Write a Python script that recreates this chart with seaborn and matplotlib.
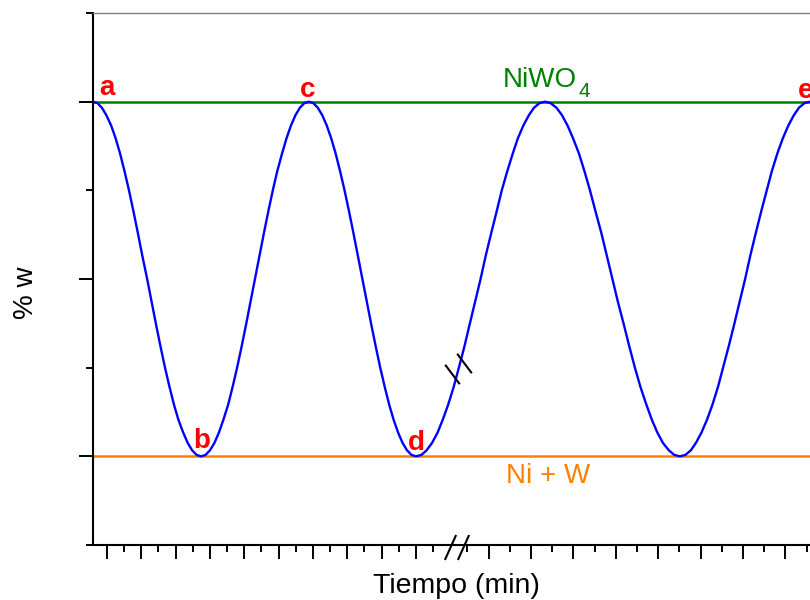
import numpy as np
import pandas as pd
import matplotlib
matplotlib.use("Agg")
import matplotlib.pyplot as plt
import seaborn as sns

# Weight signal over time (cycles between NiWO4 and Ni + W)
tiempo = [-0.41,
          -0.28, -0.15, -0.02, 0.12, 0.25, 0.38, 0.51, 0.64, 0.77, 0.90, 1.03, 1.17,
          1.30, 1.43, 1.56, 1.69, 1.82, 1.95, 2.08, 2.22, 2.35, 2.48, 2.61, 2.74,
          2.87, 3.00, 3.13, 3.26, 3.39, 3.53, 3.66, 3.79, 3.92, 4.05, 4.18, 4.31,
          4.44, 4.57, 4.70, 4.83, 4.96, 5.10, 5.23, 5.36, 5.49, 5.62, 5.75, 5.88,
          6.01, 6.14, 6.27, 6.40, 6.53, 6.66, 6.79, 6.92, 7.05, 7.18, 7.31, 7.44,
          7.57, 7.70, 7.83, 7.96, 8.09, 8.22, 8.35, 8.48, 8.61, 8.74, 8.87, 9.00,
          9.16, 9.31, 9.47, 9.63, 9.78, 9.94, 10.10, 10.25, 10.41, 10.55, 10.68, 10.81,
          10.93, 11.06, 11.19, 11.31, 11.44, 11.57, 11.69, 11.82, 11.95, 12.07, 12.20, 12.33,
          12.46, 12.60, 12.73, 12.86, 12.99, 13.13, 13.26, 13.39, 13.52, 13.66, 13.79, 13.92,
          14.05, 14.19, 14.32, 14.45, 14.58, 14.72, 14.85, 14.98, 15.11, 15.25, 15.38, 15.51,
          15.64, 15.77, 15.89, 16.02, 16.15, 16.28, 16.41, 16.53, 16.66, 16.79, 16.92, 17.05,
          17.17, 17.30, 17.43, 17.56, 17.68, 17.81, 17.94, 18.07, 18.20, 18.32, 18.45, 18.58,
          18.71, 18.84, 18.96, 19.09, 19.22, 19.35]
peso = [100,
        99.6, 98.3, 96.2, 93.3, 89.7, 85.4, 80.4, 75.0, 69.1, 62.9, 56.5, 50.0,
        43.5, 37.1, 30.9, 25.0, 19.6, 14.6, 10.3, 6.7, 3.8, 1.7, 0.4, 0.0,
        0.4, 1.7, 3.8, 6.7, 10.3, 14.6, 19.6, 25.0, 30.9, 37.1, 43.5, 50.0,
        56.5, 62.9, 69.1, 75.0, 80.4, 85.4, 89.7, 93.3, 96.2, 98.3, 99.6, 100,
        99.6, 98.3, 96.2, 93.3, 89.7, 85.4, 80.4, 75.0, 69.1, 62.9, 56.5, 50.0,
        43.5, 37.1, 30.9, 25.0, 19.6, 14.6, 10.3, 6.7, 3.8, 1.7, 0.4, 0.0,
        0.4, 1.7, 3.8, 6.7, 10.3, 14.6, 19.6, 25.0, 30.9, 37.1, 43.5, 50.0,
        56.5, 62.9, 69.1, 75.0, 80.4, 85.4, 89.7, 93.3, 96.2, 98.3, 99.6, 100,
        99.6, 98.3, 96.2, 93.3, 89.7, 85.4, 80.4, 75.0, 69.1, 62.9, 56.5, 50.0,
        43.5, 37.1, 30.9, 25.0, 19.6, 14.6, 10.3, 6.7, 3.8, 1.7, 0.4, 0.0,
        0.4, 1.7, 3.8, 6.7, 10.3, 14.6, 19.6, 25.0, 30.9, 37.1, 43.5, 50.0,
        56.5, 62.9, 69.1, 75.0, 80.4, 85.4, 89.7, 93.3, 96.2, 98.3, 99.6, 100,
        99.6, 98.3, 96.2, 93.3, 89.7, 85.4]

# Reference levels
nivel_niwo4 = 100
nivel_niw = 0

# Point labels along the cycle
etiquetas = ["a", "b", "c", "d", "e"]
etiqueta_t = [0.0, 2.75, 5.85, 9.02, 18.48]
etiqueta_w = [101.9, 2.3, 101.3, 1.8, 101.0]

# Tick positions (no tick labels are shown)
x_mayores = [0, 1, 2, 3, 4, 5, 6, 7, 8, 9, 11, 12, 13, 14, 15, 16, 17, 18, 19]
x_menores = [0.5, 1.5, 2.5, 3.5, 4.5, 5.5, 6.5, 7.5, 8.5, 9.5,
             10.5, 11.5, 12.5, 13.5, 14.5, 15.5, 16.5, 17.5, 18.5, 19.5]
y_mayores = [0, 50, 100]
y_menores = [-25, 25, 75, 125]

df = pd.DataFrame({"tiempo": tiempo, "peso": peso})

sns.set_style("ticks")
plt.rcParams["font.family"] = ["Liberation Sans", "DejaVu Sans"]
plt.rcParams["text.color"] = "black"
plt.rcParams["axes.labelcolor"] = "black"

fig = plt.figure(figsize=(8.1, 6), dpi=100)
ax = fig.add_axes([93 / 810, 55 / 600, 756 / 810, 532 / 600])

# Broken time axis: the second part is drawn with a wider scale
CORTE = 10.5
ESCALA = 42.4 / 34.33


def adelante(t):
    t = np.asarray(t, dtype=float)
    return np.where(t <= CORTE, t, CORTE + (t - CORTE) * ESCALA)


def atras(u):
    u = np.asarray(u, dtype=float)
    return np.where(u <= CORTE, u, CORTE + (u - CORTE) / ESCALA)


ax.set_xscale("function", functions=(adelante, atras))

ax.axhline(nivel_niwo4, color="#008000", lw=1.8, zorder=2)
ax.axhline(nivel_niw, color="#ff8000", lw=1.8, zorder=2)

sns.lineplot(data=df, x="tiempo", y="peso", sort=False, estimator=None,
             color="#0000ff", lw=1.7, ax=ax, zorder=3)

ax.set_xlim(-0.408, 19.5)
ax.set_ylim(-25, 125)

ax.set_xticks(x_mayores)
ax.set_xticks(x_menores, minor=True)
ax.set_yticks(y_mayores)
ax.set_yticks(y_menores, minor=True)
ax.tick_params(which="major", length=10, width=1.4, color="black",
               direction="out", labelbottom=False, labelleft=False)
ax.tick_params(which="minor", length=5, width=1.4, color="black",
               direction="out")

for lado in ("left", "bottom"):
    ax.spines[lado].set_color("black")
    ax.spines[lado].set_linewidth(1.5)
ax.spines["top"].set_color("#808080")
ax.spines["top"].set_linewidth(1.0)
ax.spines["right"].set_visible(False)

# Labels of the cycle points
for txt, t, w in zip(etiquetas, etiqueta_t, etiqueta_w):
    ax.text(t, w, txt, color="#ff0000", fontsize=20, fontweight="bold",
            ha="center", va="baseline", zorder=5, clip_on=False)

# Phase names on the reference levels
ax.text(11.34, 104.2, "NiWO", color="#008000", fontsize=20,
        ha="left", va="baseline")
ax.text(13.13, 101.4, "4", color="#008000", fontsize=15,
        ha="left", va="baseline")
ax.text(12.40, -7.5, "Ni + W", color="#ff8000", fontsize=20,
        ha="center", va="baseline")

# Break marks on the time axis and on the curve
eje_corte = [(-0.45, -1.0), (0.45, 1.0)]
curva_corte = [(-0.6, 0.8), (0.6, -0.8)]
ax.plot([9.99, 10.37], [-25.5, -25.5], ls="none", marker=eje_corte,
        markersize=18, mec="black", mew=1.5, clip_on=False, zorder=6)
ax.plot([10.05, 10.39], [23.1, 26.2], ls="none", marker=curva_corte,
        markersize=14, mec="black", mew=1.5, clip_on=False, zorder=6)

ax.set_xlabel("Tiempo (min)", fontsize=20.5)
ax.set_ylabel("% w", fontsize=20, va="center")
ax.xaxis.set_label_coords((456 - 93) / 756, -0.052)
ax.yaxis.set_label_coords((26 - 93) / 756, (545 - 293) / 532)

fig.savefig("out.png", dpi=100)
